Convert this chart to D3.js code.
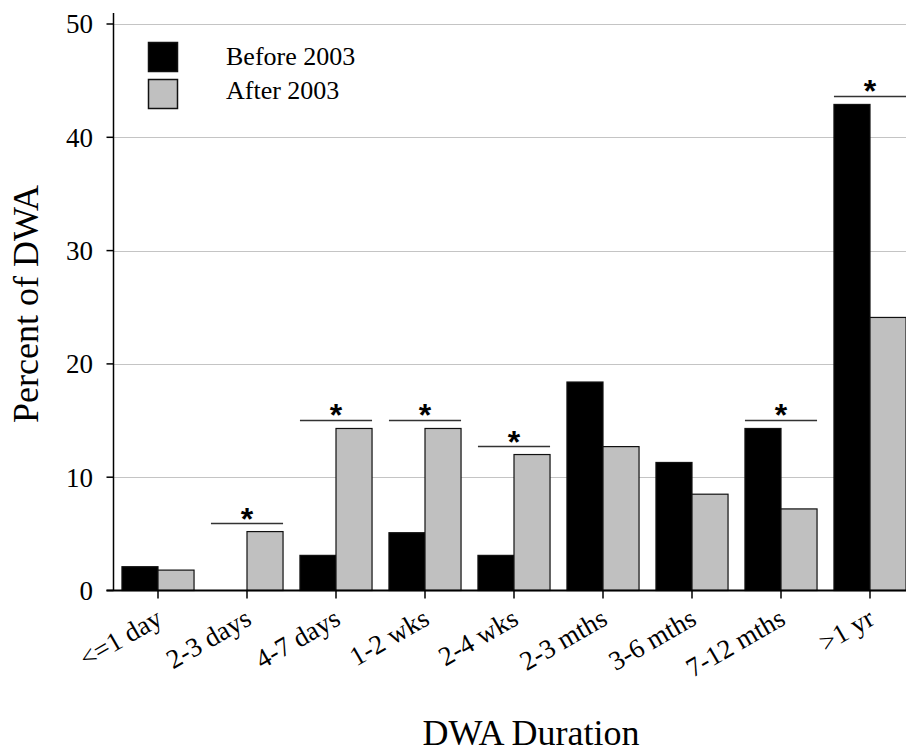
<!DOCTYPE html>
<html>
<head>
<meta charset="utf-8">
<script src="https://cdn.jsdelivr.net/npm/d3@7/dist/d3.min.js"></script>
<style>
  html, body { margin: 0; padding: 0; background: #ffffff; }
  svg { display: block; }
  text { font-family: "Liberation Serif", "Times New Roman", serif; fill: #000; }
</style>
</head>
<body>
<svg id="chart" width="906" height="751"></svg>
<script>
const categories = ["<=1 day", "2-3 days", "4-7 days", "1-2 wks", "2-4 wks", "2-3 mths", "3-6 mths", "7-12 mths", ">1 yr"];
const seriesNames = ["Before 2003", "After 2003"];
const before2003 = [2.1, 0, 3.1, 5.1, 3.1, 18.4, 11.3, 14.3, 42.9];
const after2003 = [1.8, 5.2, 14.3, 14.3, 12.0, 12.7, 8.5, 7.2, 24.1];
const significant = ["2-3 days", "4-7 days", "1-2 wks", "2-4 wks", "7-12 mths", ">1 yr"];
const yTicks = [0, 10, 20, 30, 40, 50];

const seriesColors = { "Before 2003": "#000000", "After 2003": "#c0c0c0" };

function drawChart() {
  const svg = d3.select("#chart");
  const width = 906;
  const axisX = 113.5;
  const zeroY = 590.5;

  const x = d3.scaleBand()
    .domain(categories)
    .range([113.5, 914.5])
    .paddingInner(0.19)
    .paddingOuter(0.095);

  const xSeries = d3.scaleBand()
    .domain(seriesNames)
    .range([0, x.bandwidth()]);

  const y = d3.scaleLinear()
    .domain([0, 50])
    .range([zeroY, 24]);

  // gridlines
  svg.append("g")
    .selectAll("line")
    .data(yTicks.filter(t => t > 0))
    .enter()
    .append("line")
    .attr("x1", axisX)
    .attr("x2", width)
    .attr("y1", d => Math.round(y(d)) + 0.5)
    .attr("y2", d => Math.round(y(d)) + 0.5)
    .attr("stroke", "#c4c4c4")
    .attr("stroke-width", 1);

  const rows = categories.map((c, i) => ({
    category: c,
    values: [
      { series: "Before 2003", value: before2003[i] },
      { series: "After 2003", value: after2003[i] }
    ]
  }));

  // bars
  const groups = svg.append("g")
    .selectAll("g")
    .data(rows)
    .enter()
    .append("g")
    .attr("transform", d => `translate(${x(d.category)},0)`);

  groups.selectAll("rect")
    .data(d => d.values.filter(v => v.value > 0))
    .enter()
    .append("rect")
    .attr("x", d => xSeries(d.series))
    .attr("y", d => y(d.value))
    .attr("width", xSeries.bandwidth())
    .attr("height", d => zeroY - y(d.value))
    .attr("fill", d => seriesColors[d.series])
    .attr("stroke", "#111")
    .attr("stroke-width", 1.2);

  // significance markers
  const sig = svg.append("g");
  rows.filter(r => significant.includes(r.category)).forEach(r => {
    const top = y(d3.max(r.values, v => v.value)) - 8;
    sig.append("line")
      .attr("x1", x(r.category))
      .attr("x2", x(r.category) + x.bandwidth())
      .attr("y1", top)
      .attr("y2", top)
      .attr("stroke", "#333")
      .attr("stroke-width", 1.5);
    sig.append("text")
      .attr("x", x(r.category) + x.bandwidth() / 2)
      .attr("y", top + 6)
      .attr("text-anchor", "middle")
      .style("font-family", "'Liberation Sans', Arial, sans-serif")
      .style("font-weight", "700")
      .style("font-size", "32px")
      .text("*");
  });

  // y axis
  const yAxis = svg.append("g");
  yAxis.append("line")
    .attr("x1", axisX).attr("x2", axisX)
    .attr("y1", 13).attr("y2", zeroY + 0.5)
    .attr("stroke", "#000").attr("stroke-width", 1.5);
  yAxis.selectAll(".tick")
    .data(yTicks)
    .enter()
    .append("line")
    .attr("x1", axisX - 7).attr("x2", axisX)
    .attr("y1", d => y(d)).attr("y2", d => y(d))
    .attr("stroke", "#000").attr("stroke-width", 1.5);
  yAxis.selectAll("text")
    .data(yTicks)
    .enter()
    .append("text")
    .attr("x", 93)
    .attr("y", d => y(d))
    .attr("dy", "0.35em")
    .attr("text-anchor", "end")
    .style("font-size", "27px")
    .text(d => d);

  // x axis
  const xAxis = svg.append("g");
  xAxis.append("line")
    .attr("x1", axisX - 7).attr("x2", width)
    .attr("y1", zeroY).attr("y2", zeroY)
    .attr("stroke", "#000").attr("stroke-width", 2);
  xAxis.selectAll(".tick")
    .data(categories)
    .enter()
    .append("line")
    .attr("x1", d => x(d) + x.bandwidth() / 2)
    .attr("x2", d => x(d) + x.bandwidth() / 2)
    .attr("y1", zeroY).attr("y2", zeroY + 8)
    .attr("stroke", "#000").attr("stroke-width", 1.5);
  xAxis.selectAll("text")
    .data(categories)
    .enter()
    .append("text")
    .attr("text-anchor", "end")
    .attr("transform", d => `translate(${x(d) + x.bandwidth() / 2 + 6},${zeroY + 33}) rotate(-30)`)
    .style("font-size", "27px")
    .text(d => d);

  // axis titles
  svg.append("text")
    .attr("transform", "translate(38,304) rotate(-90)")
    .attr("text-anchor", "middle")
    .style("font-size", "36px")
    .text("Percent of DWA");

  svg.append("text")
    .attr("x", 531)
    .attr("y", 745)
    .attr("text-anchor", "middle")
    .style("font-size", "36px")
    .text("DWA Duration");

  // legend
  const legend = svg.append("g");
  seriesNames.forEach((name, i) => {
    legend.append("rect")
      .attr("x", 148.5)
      .attr("y", 42.5 + i * 37)
      .attr("width", 29)
      .attr("height", 29)
      .attr("fill", seriesColors[name])
      .attr("stroke", "#111")
      .attr("stroke-width", 1.5);
    legend.append("text")
      .attr("x", 226)
      .attr("y", 65 + i * 34)
      .style("font-size", "26px")
      .text(name);
  });
}

drawChart();
</script>
</body>
</html>
